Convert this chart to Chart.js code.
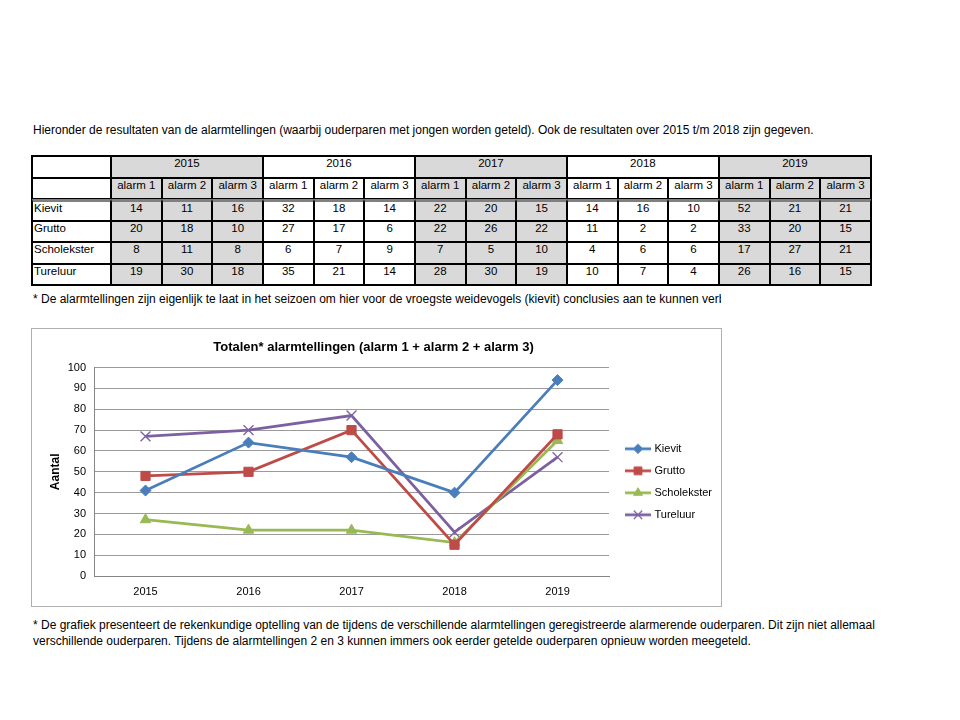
<!DOCTYPE html>
<html>
<head>
<meta charset="utf-8">
<script src="https://cdn.jsdelivr.net/npm/chart.js@4"></script>
<style>
  html, body { margin: 0; padding: 0; background: #fff; }
  body { width: 960px; height: 720px; position: relative; overflow: hidden; font-family: "Liberation Sans", Arial, sans-serif; color: #000; }
  .txt { position: absolute; font-size: 12px; white-space: nowrap; line-height: 14px; }
  #intro { left: 33px; top: 123px; }
  #note1 { left: 33px; top: 292px; width: 688px; overflow: hidden; }
  #note2 { left: 33px; top: 617px; line-height: 16px; }
  table { position: absolute; left: 31px; top: 155px; border-collapse: separate; border-spacing: 0; table-layout: fixed; width: 841px; border: 1px solid #000; font-size: 11.5px; }
  td { border: 1px solid #000; padding: 0; text-align: center; vertical-align: top; line-height: 13px; overflow: hidden; white-space: nowrap; }
  td.lab { text-align: left; padding-left: 1px; }
  td.g { background: #d9d9d9; }
  tr.first td { border-top: 3px solid #808080; }
  #box { position: absolute; left: 31px; top: 328px; width: 689px; height: 277px; border: 1px solid #b0b0b0; }
  #box canvas { position: absolute; left: 0; top: 0; }
</style>
</head>
<body>
<div class="txt" id="intro">Hieronder de resultaten van de alarmtellingen (waarbij ouderparen met jongen worden geteld). Ook de resultaten over 2015 t/m 2018 zijn gegeven.</div>
<table id="tbl"></table>
<div class="txt" id="note1">* De alarmtellingen zijn eigenlijk te laat in het seizoen om hier voor de vroegste weidevogels (kievit) conclusies aan te kunnen verbinden.</div>
<div id="box"><canvas id="c" width="689" height="277"></canvas></div>
<div class="txt" id="note2">* De grafiek presenteert de rekenkundige optelling van de tijdens de verschillende alarmtellingen geregistreerde alarmerende ouderparen. Dit zijn niet allemaal<br>verschillende ouderparen. Tijdens de alarmtellingen 2 en 3 kunnen immers ook eerder getelde ouderparen opnieuw worden meegeteld.</div>
<script>
// ---- data ----
const years = ['2015', '2016', '2017', '2018', '2019'];
const alarmLabels = ['alarm 1', 'alarm 2', 'alarm 3'];
const species = ['Kievit', 'Grutto', 'Scholekster', 'Tureluur'];

const tableKievit      = [14, 11, 16, 32, 18, 14, 22, 20, 15, 14, 16, 10, 52, 21, 21];
const tableGrutto      = [20, 18, 10, 27, 17, 6, 22, 26, 22, 11, 2, 2, 33, 20, 15];
const tableScholekster = [8, 11, 8, 6, 7, 9, 7, 5, 10, 4, 6, 6, 17, 27, 21];
const tableTureluur    = [19, 30, 18, 35, 21, 14, 28, 30, 19, 10, 7, 4, 26, 16, 15];

const totalKievit      = [41, 64, 57, 40, 94];
const totalGrutto      = [48, 50, 70, 15, 68];
const totalScholekster = [27, 22, 22, 16, 65];
const totalTureluur    = [67, 70, 77, 21, 57];

const chartTitle = 'Totalen* alarmtellingen (alarm 1 + alarm 2 + alarm 3)';
const yTitle = 'Aantal';

// ---- table ----
(function buildTable() {
  const tbl = document.getElementById('tbl');
  const cg = document.createElement('colgroup');
  const c0 = document.createElement('col'); c0.style.width = '79px'; cg.appendChild(c0);
  for (let i = 0; i < years.length * alarmLabels.length; i++) {
    const c = document.createElement('col'); cg.appendChild(c);
  }
  tbl.appendChild(cg);
  const isGray = yi => yi % 2 === 0;
  // year row
  let tr = document.createElement('tr'); tr.style.height = '22px';
  let td = document.createElement('td'); tr.appendChild(td);
  years.forEach((y, yi) => {
    const t = document.createElement('td'); t.colSpan = 3; t.textContent = y;
    if (isGray(yi)) t.className = 'g';
    tr.appendChild(t);
  });
  tbl.appendChild(tr);
  // alarm row
  tr = document.createElement('tr'); tr.style.height = '21px';
  td = document.createElement('td'); tr.appendChild(td);
  years.forEach((y, yi) => alarmLabels.forEach(a => {
    const t = document.createElement('td'); t.textContent = a;
    if (isGray(yi)) t.className = 'g';
    tr.appendChild(t);
  }));
  tbl.appendChild(tr);
  const rows = [tableKievit, tableGrutto, tableScholekster, tableTureluur];
  rows.forEach((vals, ri) => {
    const r = document.createElement('tr'); r.style.height = '21.5px';
    if (ri === 0) r.className = 'first';
    const l = document.createElement('td'); l.className = 'lab'; l.textContent = species[ri]; r.appendChild(l);
    vals.forEach((v, i) => {
      const t = document.createElement('td'); t.textContent = v;
      if (isGray(Math.floor(i / 3))) t.className = 'g';
      r.appendChild(t);
    });
    tbl.appendChild(r);
  });
})();

// ---- chart ----
const colors = ['#4A7EBB', '#BE4B48', '#98B954', '#7D60A0'];
const styles = ['rectRot', 'rect', 'triangle', 'crossRot'];
const radii = [5.5, 6.5, 6, 7];
const totals = [totalKievit, totalGrutto, totalScholekster, totalTureluur];

function legendIcon(i) {
  const cv = document.createElement('canvas');
  cv.width = 26; cv.height = 14;
  const ctx = cv.getContext('2d');
  ctx.strokeStyle = colors[i]; ctx.fillStyle = colors[i];
  ctx.lineWidth = 2.75;
  ctx.beginPath(); ctx.moveTo(0, 7); ctx.lineTo(26, 7); ctx.stroke();
  ctx.lineWidth = i === 3 ? 1.2 : 1;
  Chart.helpers.drawPoint(ctx, { pointStyle: styles[i], radius: radii[i] * 0.85, rotation: 0, borderWidth: ctx.lineWidth }, 13, 7);
  return cv;
}

const legendShift = {
  id: 'legendShift',
  afterLayout(chart) {
    const lg = chart.legend;
    if (!lg) return;
    const dx = 584 - lg.left;
    lg.left += dx; lg.right += dx;
    lg.top += 10; lg.bottom += 10;
  }
};

const font = 'Liberation Sans, Arial, sans-serif';

new Chart(document.getElementById('c'), {
  type: 'line',
  data: {
    labels: years,
    datasets: species.map((s, i) => ({
      label: s,
      data: totals[i],
      borderColor: colors[i],
      backgroundColor: colors[i],
      borderWidth: 2.75,
      pointStyle: styles[i],
      pointRadius: radii[i],
      pointBorderWidth: i === 3 ? 1.3 : 1,
      pointBorderColor: colors[i],
      pointBackgroundColor: colors[i],
      tension: 0,
      fill: false
    }))
  },
  options: {
    responsive: false,
    animation: false,
    devicePixelRatio: 1,
    layout: { padding: { left: 0, right: 6, top: 0, bottom: 0 } },
    plugins: {
      title: {
        display: true,
        text: chartTitle,
        color: '#000',
        font: { family: font, size: 13, weight: 'bold' },
        padding: { top: 11, bottom: 12 }
      },
      legend: {
        position: 'right',
        fullSize: false,
        labels: {
          usePointStyle: true,
          pointStyleWidth: 22,
          padding: 11,
          color: '#000',
          font: { family: font, size: 11 },
          generateLabels(chart) {
            return chart.data.datasets.map((ds, i) => ({
              text: ds.label,
              pointStyle: legendIcon(i),
              fillStyle: colors[i],
              strokeStyle: colors[i],
              lineWidth: 0,
              hidden: false,
              datasetIndex: i
            }));
          }
        }
      },
      tooltip: { enabled: false }
    },
    scales: {
      x: {
        offset: true,
        afterFit(s) { s.height = 30; },
        grid: { display: false, drawTicks: false },
        border: { display: true, color: '#868686', width: 1 },
        ticks: { color: '#000', padding: 9, font: { family: font, size: 11 } }
      },
      y: {
        min: 0, max: 100,
        afterFit(s) { s.width = 62; },
        ticks: { stepSize: 10, color: '#000', padding: 8, font: { family: font, size: 11 } },
        grid: { color: '#9a9a9a', lineWidth: 1, drawTicks: false },
        border: { display: true, color: '#868686', width: 1 },
        title: {
          display: true,
          text: yTitle,
          color: '#000',
          font: { family: font, size: 12, weight: 'bold' },
          padding: { top: 16, bottom: 0 }
        }
      }
    }
  },
  plugins: [legendShift]
});
</script>
</body>
</html>
